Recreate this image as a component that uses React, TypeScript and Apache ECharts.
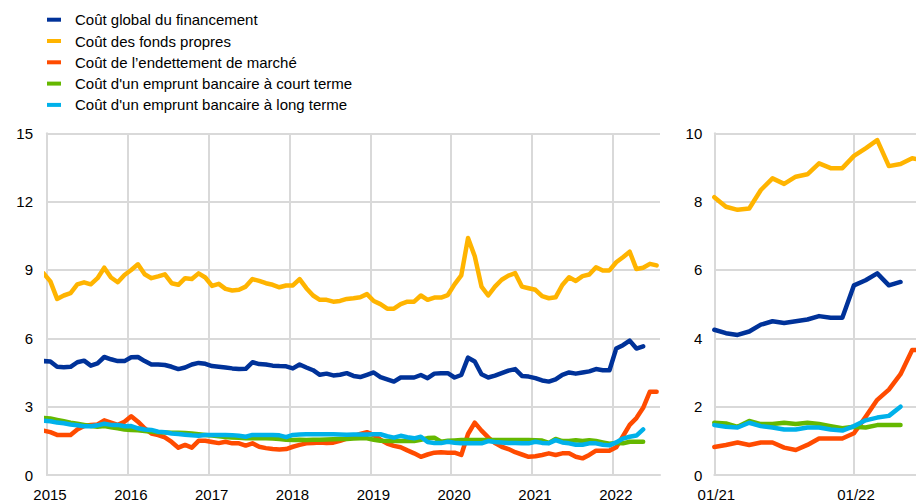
import React, { useEffect, useRef } from "react";
import * as echarts from "echarts";

// Monthly observations, index 0 = Dec 2014 ... index 91 = Jul 2022
const seriesNames = [
  "Coût global du financement",
  "Coût des fonds propres",
  "Coût de l’endettement de marché",
  "Coût d'un emprunt bancaire à court terme",
  "Coût d'un emprunt bancaire à long terme",
];
const seriesColors = ["#003299", "#FFB400", "#FF4B00", "#65B800", "#00B1EA"];

const coutGlobal: (number | null)[] = [
  5.0, 4.98, 4.75, 4.73, 4.75, 4.95, 5.02, 4.8, 4.9, 5.18, 5.08, 5.0, 5.0, 5.17, 5.18, 5.0, 4.85, 4.85, 4.83, 4.75, 4.65, 4.72, 4.85, 4.92,
  4.88, 4.78, 4.75, 4.72, 4.68, 4.65, 4.66, 4.95, 4.87, 4.85, 4.8, 4.78, 4.77, 4.68, 4.85, 4.72, 4.6, 4.4, 4.45, 4.37, 4.4, 4.47,
  4.35, 4.3, 4.4, 4.5, 4.3, 4.2, 4.1, 4.28, 4.28, 4.28, 4.39, 4.25, 4.45, 4.47, 4.47, 4.28, 4.39, 5.15, 4.98, 4.42, 4.28, 4.36, 4.47, 4.58, 4.65, 4.35, 4.32,
  4.25, 4.15, 4.1, 4.2, 4.4, 4.5, 4.45, 4.5, 4.55, 4.65, 4.6, 4.6, 5.55, 5.7, 5.9, 5.55, 5.65, null, null,
];
const fondsPropres: (number | null)[] = [
  8.85, 8.5, 7.73, 7.88, 7.98, 8.37, 8.46, 8.37, 8.64, 9.1, 8.67, 8.46, 8.78, 9.0, 9.25, 8.81, 8.64, 8.72, 8.81, 8.42, 8.35, 8.64, 8.6, 8.85,
  8.67, 8.3, 8.39, 8.17, 8.1, 8.13, 8.27, 8.6, 8.52, 8.42, 8.35, 8.24, 8.32, 8.32, 8.6, 8.2, 7.88, 7.69, 7.69, 7.61, 7.64, 7.73,
  7.76, 7.8, 7.94, 7.64, 7.5, 7.3, 7.3, 7.5, 7.61, 7.61, 7.88, 7.69, 7.79, 7.79, 7.9, 8.37, 8.76, 10.4, 9.6, 8.27, 7.88, 8.27, 8.57, 8.75, 8.86, 8.27, 8.2,
  8.13, 7.85, 7.76, 7.8, 8.34, 8.68, 8.52, 8.73, 8.8, 9.12, 8.98, 8.98, 9.34, 9.56, 9.8, 9.04, 9.1, 9.27, 9.2,
];
const endettementMarche: (number | null)[] = [
  1.95, 1.88, 1.76, 1.76, 1.76, 2.0, 2.15, 2.2, 2.22, 2.4, 2.3, 2.2, 2.34, 2.58, 2.34, 2.05, 1.82, 1.75, 1.65, 1.45, 1.2, 1.32, 1.2, 1.5,
  1.5, 1.45, 1.4, 1.46, 1.39, 1.39, 1.29, 1.39, 1.24, 1.18, 1.14, 1.12, 1.14, 1.24, 1.32, 1.39, 1.4, 1.43, 1.4, 1.42, 1.5, 1.6,
  1.7, 1.8, 1.88, 1.75, 1.55, 1.38, 1.28, 1.22, 1.08, 0.95, 0.8, 0.9, 0.98, 1.0, 0.98, 0.98, 0.88, 1.8, 2.3, 1.95, 1.65, 1.4, 1.24, 1.14, 1.0, 0.9, 0.8,
  0.82, 0.88, 0.95, 0.88, 0.95, 0.95, 0.8, 0.73, 0.88, 1.07, 1.07, 1.07, 1.22, 1.7, 2.2, 2.5, 2.95, 3.66, 3.66,
];
const empruntCourt: (number | null)[] = [
  2.5, 2.48, 2.42, 2.36, 2.3, 2.25, 2.2, 2.15, 2.12, 2.15, 2.1, 2.05, 2.0, 1.97, 1.96, 1.93, 1.9, 1.88, 1.87, 1.86, 1.85, 1.84, 1.82, 1.79,
  1.76, 1.73, 1.7, 1.67, 1.65, 1.63, 1.61, 1.61, 1.61, 1.61, 1.6, 1.58, 1.55, 1.54, 1.55, 1.54, 1.55, 1.55, 1.56, 1.57, 1.58, 1.58,
  1.6, 1.61, 1.61, 1.55, 1.5, 1.49, 1.49, 1.49, 1.49, 1.49, 1.55, 1.62, 1.64, 1.46, 1.5, 1.52, 1.54, 1.54, 1.54, 1.54, 1.54, 1.54, 1.54, 1.54, 1.54, 1.54, 1.54,
  1.53, 1.51, 1.41, 1.58, 1.49, 1.49, 1.53, 1.49, 1.53, 1.49, 1.43, 1.37, 1.41, 1.39, 1.46, 1.46, 1.46, null, null,
];
const empruntLong: (number | null)[] = [
  2.38, 2.36, 2.3, 2.27, 2.22, 2.18, 2.14, 2.14, 2.18, 2.25, 2.2, 2.2, 2.14, 2.15, 2.05, 2.0, 1.98, 1.9, 1.88, 1.82, 1.8, 1.77, 1.74, 1.72,
  1.76, 1.76, 1.76, 1.76, 1.75, 1.72, 1.68, 1.76, 1.76, 1.76, 1.76, 1.74, 1.66, 1.76, 1.78, 1.79, 1.79, 1.79, 1.79, 1.79, 1.78, 1.77,
  1.78, 1.78, 1.78, 1.79, 1.79, 1.7, 1.64, 1.72, 1.66, 1.61, 1.68, 1.45, 1.4, 1.4, 1.46, 1.42, 1.39, 1.39, 1.39, 1.39, 1.49, 1.45, 1.43, 1.4, 1.4, 1.39, 1.39,
  1.46, 1.41, 1.39, 1.53, 1.43, 1.39, 1.33, 1.33, 1.39, 1.39, 1.33, 1.3, 1.43, 1.6, 1.68, 1.73, 2.0, null, null,
];

const yearLabels = ["2015", "2016", "2017", "2018", "2019", "2020", "2021", "2022"];
const zoomLabels = ["01/21", "01/22"];
const zoomStartIndex = 73; // Jan 2021
const leftYTicks = { min: 0, max: 15, interval: 3 };
const rightYTicks = { min: 0, max: 10, interval: 2 };

const allSeries = [coutGlobal, fondsPropres, endettementMarche, empruntCourt, empruntLong];

const FONT = '"Liberation Sans", Arial, sans-serif';
const GRID_COLOR = "#d9d9d9";

export default function App() {
  const ref = useRef<HTMLDivElement>(null);
  useEffect(() => {
    document.body.style.margin = "0";
    if (!ref.current) return;
    const chart = echarts.init(ref.current, undefined, { renderer: "svg" });

    const axisLabelBase = { fontSize: 15, fontFamily: FONT, color: "#000" };
    const lineCommon = { show: true, lineStyle: { color: GRID_COLOR, width: 2 } };

    const series: any[] = [];
    allSeries.forEach((vals, i) => {
      const left: any[] = [];
      const right: any[] = [];
      vals.forEach((v, k) => {
        if (v === null) return;
        left.push([k - 0.5, v]);
        if (k >= zoomStartIndex) right.push([k - zoomStartIndex, v]);
      });
      const common = {
        type: "line",
        name: seriesNames[i],
        showSymbol: false,
        symbol: "none",
        clip: true,
        color: seriesColors[i],
        lineStyle: { width: 4.5, color: seriesColors[i], cap: "round", join: "round" },
        z: 2 + i,
      };
      series.push({ ...common, xAxisIndex: 0, yAxisIndex: 0, data: left });
      series.push({ ...common, xAxisIndex: 1, yAxisIndex: 1, data: right });
    });

    const graphic: any[] = [];
    seriesNames.forEach((name, i) => {
      const cy = 19.7 + 21.3 * i;
      graphic.push({
        type: "rect",
        shape: { x: 47, y: cy - 2, width: 14, height: 4 },
        style: { fill: seriesColors[i] },
      });
      graphic.push({
        type: "text",
        x: 75,
        y: cy,
        style: { text: name, font: `15px ${FONT}`, fill: "#000", verticalAlign: "middle", align: "left" },
      });
    });

    chart.setOption({
      animation: false,
      backgroundColor: "#fff",
      grid: [
        { left: 47, top: 133.3, width: 613, height: 341.7 },
        { left: 714.3, top: 133.3, width: 201.7, height: 341.7 },
      ],
      xAxis: [
        {
          type: "value",
          gridIndex: 0,
          min: 0,
          max: 91,
          interval: 12,
          axisLine: { ...lineCommon, onZero: false },
          axisTick: { show: false },
          splitLine: { ...lineCommon, showMaxLine: false },
          axisLabel: {
            ...axisLabelBase,
            margin: 12,
            padding: [0, 0, 0, 6],
            showMaxLabel: false,
            formatter: (v: number) => (v % 12 === 0 ? yearLabels[v / 12] ?? "" : ""),
          },
        },
        {
          type: "value",
          gridIndex: 1,
          min: 0,
          max: 17.33,
          interval: 12,
          axisLine: { ...lineCommon, onZero: false },
          axisTick: { show: false },
          splitLine: { ...lineCommon, showMaxLine: false },
          axisLabel: {
            ...axisLabelBase,
            margin: 12,
            padding: [0, 0, 0, 4],
            showMaxLabel: false,
            formatter: (v: number) => (v % 12 === 0 ? zoomLabels[v / 12] ?? "" : ""),
          },
        },
      ],
      yAxis: [
        {
          type: "value",
          gridIndex: 0,
          ...leftYTicks,
          axisLine: lineCommon,
          axisTick: { show: false },
          splitLine: lineCommon,
          axisLabel: { ...axisLabelBase, margin: 14, padding: [4, 0, 0, 0] },
        },
        {
          type: "value",
          gridIndex: 1,
          ...rightYTicks,
          axisLine: lineCommon,
          axisTick: { show: false },
          splitLine: lineCommon,
          axisLabel: { ...axisLabelBase, margin: 12, padding: [4, 0, 0, 0] },
        },
      ],
      graphic,
      series,
    });
    return () => chart.dispose();
  }, []);
  return <div ref={ref} style={{ width: 916, height: 502 }} />;
}
